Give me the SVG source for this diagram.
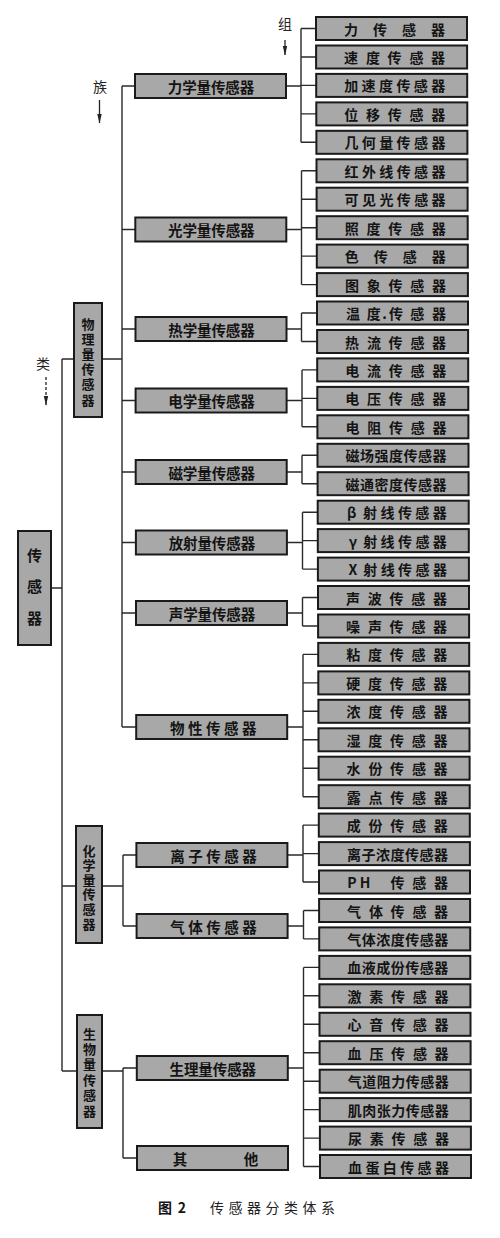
<svg xmlns="http://www.w3.org/2000/svg" width="500" height="1238" viewBox="0 0 500 1238">
<style>
.box{fill:#a8a8a8;stroke:#1a1a1a;stroke-width:2}
.t{font-family:"Noto Sans CJK SC","Noto Sans CJK JP",sans-serif;font-weight:bold;fill:#141414;text-anchor:middle;dominant-baseline:central}
.lt{font-size:14px}
.mt{font-size:14.5px}
.ct{font-size:13px}
.lab{font-family:"Noto Sans CJK SC","Noto Sans CJK JP",sans-serif;font-size:14px;fill:#222;text-anchor:middle;dominant-baseline:central}
.conn{fill:none;stroke:#2a2a2a;stroke-width:1.4}
.arr{fill:none;stroke:#222;stroke-width:1.3}
</style>
<defs>
<marker id="ah" markerUnits="userSpaceOnUse" markerWidth="10" markerHeight="6" refX="9" refY="3" orient="auto" viewBox="0 0 10 6">
<path d="M0,0.8 L9.5,3 L0,5.2 Z" fill="#222"/>
</marker>
</defs>
<rect width="500" height="1238" fill="#ffffff"/>

<!-- level labels -->
<g id="labels">
<text class="lab" x="285" y="23">组</text>
<line class="arr" x1="285" y1="40" x2="285" y2="55" marker-end="url(#ah)"/>
<text class="lab" x="100" y="86">族</text>
<line class="arr" x1="99.5" y1="100" x2="99.5" y2="123" marker-end="url(#ah)"/>
<text class="lab" x="43" y="363">类</text>
<line class="arr" x1="46" y1="377" x2="46" y2="405" stroke-dasharray="3 2" marker-end="url(#ah)"/>
</g>

<!-- connectors -->
<g id="connectors" class="conn">
<path d="M51,588 H62 M62,359 V1071 M62,359 H74 M62,886 H76 M62,1071 H77"/>
<path d="M102,359 H122 M122,86 V727 M122,86 H135 M122,229.5 H135.3 M122,329 H135.5 M122,400.5 H135.6 M122,472 H135.7 M122,542.5 H135.9 M122,613 H136 M122,727 H136.2"/>
<path d="M102,886 H123 M123,855 V926 M123,855 H136.4 M123,926 H136.6"/>
<path d="M102,1071 H123 M123,1068 V1158 M123,1068 H136.8 M123,1158 H137"/>
<path d="M286,86 H301 M301,28.5 V142.3 M301,28.5 H316 M301,57 H316.1 M301,85.4 H316.2 M301,113.9 H316.3 M301,142.3 H316.4"/>
<path d="M286.3,229.5 H301.5 M301.5,170.8 V284.6 M301.5,170.8 H316.5 M301.5,199.2 H316.6 M301.5,227.7 H316.7 M301.5,256.1 H316.8 M301.5,284.6 H316.9"/>
<path d="M286.5,329 H301.5 M301.5,313 V341.5 M301.5,313 H317 M301.5,341.5 H317.1"/>
<path d="M286.6,400.5 H302 M302,369.9 V426.8 M302,369.9 H317.2 M302,398.4 H317.3 M302,426.8 H317.4"/>
<path d="M286.7,472 H302 M302,455.3 V483.7 M302,455.3 H317.5 M302,483.7 H317.6"/>
<path d="M286.9,542.5 H302.5 M302.5,512.2 V569.1 M302.5,512.2 H317.7 M302.5,540.6 H317.8 M302.5,569.1 H317.9"/>
<path d="M287,613 H302.5 M302.5,597.5 V626 M302.5,597.5 H318 M302.5,626 H318.1"/>
<path d="M287.2,727 H303 M303,654.4 V796.7 M303,654.4 H318.2 M303,682.9 H318.3 M303,711.3 H318.4 M303,739.8 H318.5 M303,768.2 H318.6 M303,796.7 H318.7"/>
<path d="M287.4,855 H303 M303,825.1 V882 M303,825.1 H318.8 M303,853.6 H318.9 M303,882 H319"/>
<path d="M287.6,926 H303.5 M303.5,910.5 V938.9 M303.5,910.5 H319.1 M303.5,938.9 H319.2"/>
<path d="M287.8,1068 H303.5 M303.5,967.4 V1166.5 M303.5,967.4 H319.3 M303.5,995.8 H319.4 M303.5,1024.3 H319.5 M303.5,1052.7 H319.6 M303.5,1081.2 H319.7 M303.5,1109.6 H319.8 M303.5,1138.1 H319.9 M303.5,1166.5 H320"/>
</g>

<!-- root -->
<g id="n-root">
<rect class="box" x="18" y="531" width="33" height="114"/>
<text class="t" font-size="15" x="34.5 34.5 34.5" y="554 585.5 617">传感器</text>
</g>

<!-- classes -->
<g id="n-physical">
<rect class="box" x="74" y="303" width="28" height="114"/>
<text class="t ct" x="88 88 88 88 88 88" y="323 338.2 353.4 368.6 383.8 399">物理量传感器</text>
</g>
<g id="n-chemical">
<rect class="box" x="76" y="826" width="26" height="117"/>
<text class="t ct" x="89 89 89 89 89 89" y="850 864.6 879.2 893.8 908.4 923">化学量传感器</text>
</g>
<g id="n-bio">
<rect class="box" x="77" y="1015" width="25" height="113"/>
<text class="t ct" x="89.5 89.5 89.5 89.5 89.5 89.5" y="1033 1048.4 1063.8 1079.2 1094.6 1110">生物量传感器</text>
</g>

<!-- families -->
<g id="f-mech" transform="translate(0,74)"><rect class="box" x="135" y="0" width="151" height="24"/><text class="t mt" x="175 189.4 203.8 218.2 232.6 247" y="12">力学量传感器</text></g>
<g id="f-opt" transform="translate(0.3,217.5)"><rect class="box" x="135" y="0" width="151" height="24"/><text class="t mt" x="175 189.4 203.8 218.2 232.6 247" y="12">光学量传感器</text></g>
<g id="f-heat" transform="translate(0.5,317)"><rect class="box" x="135" y="0" width="151" height="24"/><text class="t mt" x="175 189.4 203.8 218.2 232.6 247" y="12">热学量传感器</text></g>
<g id="f-elec" transform="translate(0.6,388.5)"><rect class="box" x="135" y="0" width="151" height="24"/><text class="t mt" x="175 189.4 203.8 218.2 232.6 247" y="12">电学量传感器</text></g>
<g id="f-mag" transform="translate(0.7,460)"><rect class="box" x="135" y="0" width="151" height="24"/><text class="t mt" x="175 189.4 203.8 218.2 232.6 247" y="12">磁学量传感器</text></g>
<g id="f-rad" transform="translate(0.9,530.5)"><rect class="box" x="135" y="0" width="151" height="24"/><text class="t mt" x="175 189.4 203.8 218.2 232.6 247" y="12">放射量传感器</text></g>
<g id="f-sound" transform="translate(1,601)"><rect class="box" x="135" y="0" width="151" height="24"/><text class="t mt" x="175 189.4 203.8 218.2 232.6 247" y="12">声学量传感器</text></g>
<g id="f-prop" transform="translate(1.2,715)"><rect class="box" x="135" y="0" width="151" height="24"/><text class="t mt" x="176 194 212 230 248" y="12">物性传感器</text></g>
<g id="f-ion" transform="translate(1.4,843)"><rect class="box" x="135" y="0" width="151" height="24"/><text class="t mt" x="176 194 212 230 248" y="12">离子传感器</text></g>
<g id="f-gas" transform="translate(1.6,914)"><rect class="box" x="135" y="0" width="151" height="24"/><text class="t mt" x="176 194 212 230 248" y="12">气体传感器</text></g>
<g id="f-phys" transform="translate(1.8,1056)"><rect class="box" x="135" y="0" width="151" height="24"/><text class="t mt" x="175 189.4 203.8 218.2 232.6 247" y="12">生理量传感器</text></g>
<g id="f-other" transform="translate(2,1146)"><rect class="box" x="135" y="0" width="151" height="24"/><text class="t mt" x="178 249" y="12">其他</text></g>

<!-- groups (leaves) -->
<g id="g00" transform="translate(0,17)"><rect class="box" x="316" y="0" width="151" height="23"/><text class="t lt" x="351 380 409 438" y="11.5">力传感器</text></g>
<g id="g01" transform="translate(0.1,45.5)"><rect class="box" x="316" y="0" width="151" height="23"/><text class="t lt" x="351 372.8 394.5 416.3 438" y="11.5">速度传感器</text></g>
<g id="g02" transform="translate(0.2,73.9)"><rect class="box" x="316" y="0" width="151" height="23"/><text class="t lt" x="351 368.4 385.8 403.2 420.6 438" y="11.5">加速度传感器</text></g>
<g id="g03" transform="translate(0.3,102.4)"><rect class="box" x="316" y="0" width="151" height="23"/><text class="t lt" x="351 372.8 394.5 416.3 438" y="11.5">位移传感器</text></g>
<g id="g04" transform="translate(0.4,130.8)"><rect class="box" x="316" y="0" width="151" height="23"/><text class="t lt" x="351 368.4 385.8 403.2 420.6 438" y="11.5">几何量传感器</text></g>
<g id="g05" transform="translate(0.5,159.3)"><rect class="box" x="316" y="0" width="151" height="23"/><text class="t lt" x="351 368.4 385.8 403.2 420.6 438" y="11.5">红外线传感器</text></g>
<g id="g06" transform="translate(0.6,187.7)"><rect class="box" x="316" y="0" width="151" height="23"/><text class="t lt" x="351 368.4 385.8 403.2 420.6 438" y="11.5">可见光传感器</text></g>
<g id="g07" transform="translate(0.7,216.2)"><rect class="box" x="316" y="0" width="151" height="23"/><text class="t lt" x="351 372.8 394.5 416.3 438" y="11.5">照度传感器</text></g>
<g id="g08" transform="translate(0.8,244.6)"><rect class="box" x="316" y="0" width="151" height="23"/><text class="t lt" x="351 380 409 438" y="11.5">色传感器</text></g>
<g id="g09" transform="translate(0.9,273.1)"><rect class="box" x="316" y="0" width="151" height="23"/><text class="t lt" x="351 372.8 394.5 416.3 438" y="11.5">图象传感器</text></g>
<g id="g10" transform="translate(1,301.5)"><rect class="box" x="316" y="0" width="151" height="23"/><text class="t lt" x="352 372.8 383.5 395 416.3 438" y="11.5">温度.传感器</text></g>
<g id="g11" transform="translate(1.1,330)"><rect class="box" x="316" y="0" width="151" height="23"/><text class="t lt" x="351 372.8 394.5 416.3 438" y="11.5">热流传感器</text></g>
<g id="g12" transform="translate(1.2,358.4)"><rect class="box" x="316" y="0" width="151" height="23"/><text class="t lt" x="351 372.8 394.5 416.3 438" y="11.5">电流传感器</text></g>
<g id="g13" transform="translate(1.3,386.9)"><rect class="box" x="316" y="0" width="151" height="23"/><text class="t lt" x="351 372.8 394.5 416.3 438" y="11.5">电压传感器</text></g>
<g id="g14" transform="translate(1.4,415.3)"><rect class="box" x="316" y="0" width="151" height="23"/><text class="t lt" x="351 372.8 394.5 416.3 438" y="11.5">电阻传感器</text></g>
<g id="g15" transform="translate(1.5,443.8)"><rect class="box" x="316" y="0" width="151" height="23"/><text class="t lt" x="351 365.5 380 394.5 409 423.5 438" y="11.5">磁场强度传感器</text></g>
<g id="g16" transform="translate(1.6,472.2)"><rect class="box" x="316" y="0" width="151" height="23"/><text class="t lt" x="351 365.5 380 394.5 409 423.5 438" y="11.5">磁通密度传感器</text></g>
<g id="g17" transform="translate(1.7,500.7)"><rect class="box" x="316" y="0" width="151" height="23"/><text class="t lt" x="350 368.4 385.8 403.2 420.6 438" y="11.5">β射线传感器</text></g>
<g id="g18" transform="translate(1.8,529.1)"><rect class="box" x="316" y="0" width="151" height="23"/><text class="t lt" x="351 368.4 385.8 403.2 420.6 438" y="11.5">γ射线传感器</text></g>
<g id="g19" transform="translate(1.9,557.6)"><rect class="box" x="316" y="0" width="151" height="23"/><text class="t lt" x="351 368.4 385.8 403.2 420.6 438" y="11.5">X射线传感器</text></g>
<g id="g20" transform="translate(2,586)"><rect class="box" x="316" y="0" width="151" height="23"/><text class="t lt" x="351 372.8 394.5 416.3 438" y="11.5">声波传感器</text></g>
<g id="g21" transform="translate(2.1,614.5)"><rect class="box" x="316" y="0" width="151" height="23"/><text class="t lt" x="351 372.8 394.5 416.3 438" y="11.5">噪声传感器</text></g>
<g id="g22" transform="translate(2.2,642.9)"><rect class="box" x="316" y="0" width="151" height="23"/><text class="t lt" x="351 372.8 394.5 416.3 438" y="11.5">粘度传感器</text></g>
<g id="g23" transform="translate(2.3,671.4)"><rect class="box" x="316" y="0" width="151" height="23"/><text class="t lt" x="351 372.8 394.5 416.3 438" y="11.5">硬度传感器</text></g>
<g id="g24" transform="translate(2.4,699.8)"><rect class="box" x="316" y="0" width="151" height="23"/><text class="t lt" x="351 372.8 394.5 416.3 438" y="11.5">浓度传感器</text></g>
<g id="g25" transform="translate(2.5,728.3)"><rect class="box" x="316" y="0" width="151" height="23"/><text class="t lt" x="351 372.8 394.5 416.3 438" y="11.5">湿度传感器</text></g>
<g id="g26" transform="translate(2.6,756.7)"><rect class="box" x="316" y="0" width="151" height="23"/><text class="t lt" x="351 372.8 394.5 416.3 438" y="11.5">水份传感器</text></g>
<g id="g27" transform="translate(2.7,785.2)"><rect class="box" x="316" y="0" width="151" height="23"/><text class="t lt" x="351 372.8 394.5 416.3 438" y="11.5">露点传感器</text></g>
<g id="g28" transform="translate(2.8,813.6)"><rect class="box" x="316" y="0" width="151" height="23"/><text class="t lt" x="351 372.8 394.5 416.3 438" y="11.5">成份传感器</text></g>
<g id="g29" transform="translate(2.9,842.1)"><rect class="box" x="316" y="0" width="151" height="23"/><text class="t lt" x="351 365.5 380 394.5 409 423.5 438" y="11.5">离子浓度传感器</text></g>
<g id="g30" transform="translate(3,870.5)"><rect class="box" x="316" y="0" width="151" height="23"/><text class="t lt" x="349 362 378 394.5 416.3 438" y="11.5">PH 传感器</text></g>
<g id="g31" transform="translate(3.1,899)"><rect class="box" x="316" y="0" width="151" height="23"/><text class="t lt" x="351 372.8 394.5 416.3 438" y="11.5">气体传感器</text></g>
<g id="g32" transform="translate(3.2,927.4)"><rect class="box" x="316" y="0" width="151" height="23"/><text class="t lt" x="351 365.5 380 394.5 409 423.5 438" y="11.5">气体浓度传感器</text></g>
<g id="g33" transform="translate(3.3,955.9)"><rect class="box" x="316" y="0" width="151" height="23"/><text class="t lt" x="351 365.5 380 394.5 409 423.5 438" y="11.5">血液成份传感器</text></g>
<g id="g34" transform="translate(3.4,984.3)"><rect class="box" x="316" y="0" width="151" height="23"/><text class="t lt" x="351 372.8 394.5 416.3 438" y="11.5">激素传感器</text></g>
<g id="g35" transform="translate(3.5,1012.8)"><rect class="box" x="316" y="0" width="151" height="23"/><text class="t lt" x="351 372.8 394.5 416.3 438" y="11.5">心音传感器</text></g>
<g id="g36" transform="translate(3.6,1041.2)"><rect class="box" x="316" y="0" width="151" height="23"/><text class="t lt" x="351 372.8 394.5 416.3 438" y="11.5">血压传感器</text></g>
<g id="g37" transform="translate(3.7,1069.7)"><rect class="box" x="316" y="0" width="151" height="23"/><text class="t lt" x="351 365.5 380 394.5 409 423.5 438" y="11.5">气道阻力传感器</text></g>
<g id="g38" transform="translate(3.8,1098.1)"><rect class="box" x="316" y="0" width="151" height="23"/><text class="t lt" x="351 365.5 380 394.5 409 423.5 438" y="11.5">肌肉张力传感器</text></g>
<g id="g39" transform="translate(3.9,1126.6)"><rect class="box" x="316" y="0" width="151" height="23"/><text class="t lt" x="351 372.8 394.5 416.3 438" y="11.5">尿素传感器</text></g>
<g id="g40" transform="translate(4,1155)"><rect class="box" x="316" y="0" width="151" height="23"/><text class="t lt" x="351 368.4 385.8 403.2 420.6 438" y="11.5">血蛋白传感器</text></g>

<!-- caption -->
<g id="caption">
<text class="t" font-size="14" x="165 182" y="1207">图2</text>
<text class="lab" font-size="14" x="217 235.5 254 272.5 291 309.5 328" y="1207">传感器分类体系</text>
</g>
</svg>
